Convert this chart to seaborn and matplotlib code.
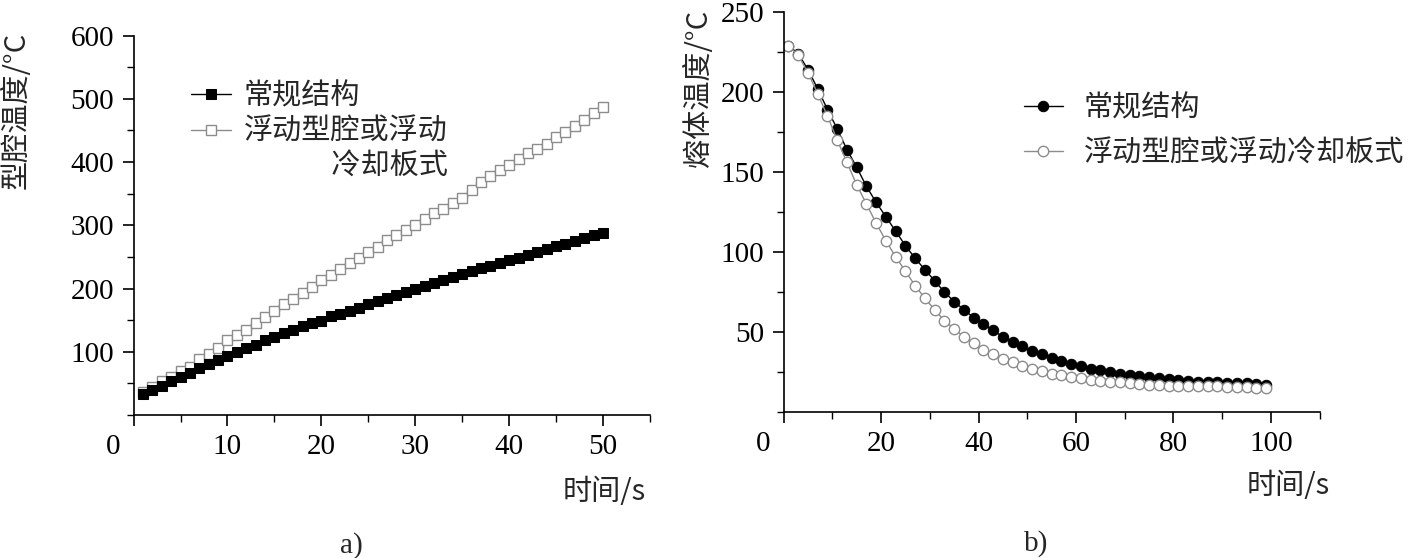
import numpy as np
import pandas as pd
import matplotlib
matplotlib.use("Agg")
import matplotlib.pyplot as plt
import seaborn as sns
from matplotlib.ticker import MultipleLocator
from matplotlib.lines import Line2D

# ---------------- data ----------------
time_a = list(range(1, 51))
conv_a = [33, 40, 46, 53, 60, 67, 74, 80, 87, 94,
          100, 106, 111, 118, 124, 129, 134, 140, 145, 149,
          156, 160, 165, 170, 175, 180, 185, 190, 195, 199,
          204, 208, 213, 218, 223, 227, 232, 236, 241, 245,
          249, 253, 258, 262, 267, 271, 275, 280, 284, 288]
float_a = [37, 45, 53, 60, 70, 76, 88, 97, 106, 118,
           126, 135, 145, 155, 164, 175, 184, 193, 203, 213,
           222, 231, 240, 248, 257, 266, 276, 285, 292, 301,
           310, 319, 326, 335, 343, 356, 368, 378, 388, 396,
           405, 414, 420, 428, 440, 448, 457, 466, 477, 487]

time_b = list(range(1, 100, 2))
conv_b = [229, 224, 214, 202, 189, 177, 164, 153, 141, 131,
          122, 113, 104, 96, 89, 82, 75, 69, 64, 59,
          55, 51, 47, 44, 41, 38, 36, 34, 32, 30,
          29, 27, 26, 25, 24, 23, 22.5, 22, 21, 20.5,
          20, 19.5, 19, 19, 18.5, 18, 18, 18, 17.5, 17]
float_b = [229, 223, 212, 199, 185, 170, 156, 142, 130, 118,
           107, 97, 88, 79, 71, 64, 57, 52, 47, 43,
           39, 36, 33, 31, 29, 27, 25.5, 24, 23, 22,
           21, 20, 19.5, 19, 18.5, 18, 17.5, 17, 17, 16.5,
           16.5, 16, 16, 16, 16, 15.5, 15.5, 15.5, 15, 15]

label_conv = "常规结构"
label_float_a1 = "浮动型腔或浮动"
label_float_a2 = "\u3000\u3000\u3000冷却板式"
label_float_b = "浮动型腔或浮动冷却板式"
ylabel_a = "型腔温度/°C"
ylabel_b = "熔体温度/°C"
xlabel = "时间/s"
xticks_a = [0, 10, 20, 30, 40, 50]
yticks_a = [100, 200, 300, 400, 500, 600]
xticks_b = [0, 20, 40, 60, 80, 100]
yticks_b = [50, 100, 150, 200, 250]

# ---------------- style ----------------
sns.set_theme(style="ticks")
FAM = ["Liberation Serif", "Noto Sans CJK SC", "DejaVu Sans"]
CJK = ["Noto Sans CJK SC", "Liberation Serif", "DejaVu Sans"]
plt.rcParams["font.family"] = FAM
plt.rcParams["axes.unicode_minus"] = False

W, H = 1427, 558
fig = plt.figure(figsize=(W / 100, H / 100), dpi=100)
FS = 21
GRAY = "#8c8c8c"

ax1 = fig.add_axes([133.6 / W, 1 - 415 / H, 516.4 / W, 379.4 / H])
ax2 = fig.add_axes([783.6 / W, 1 - 412 / H, 536 / W, 400 / H])

# ---- panel a ----
sns.lineplot(x=time_a, y=float_a, ax=ax1, color=GRAY, lw=1.0,
             marker="s", markersize=6.5, markerfacecolor="white",
             markeredgecolor=GRAY, markeredgewidth=1.0,
             drawstyle="steps-mid", label=label_float_a1)
sns.lineplot(x=time_a, y=conv_a, ax=ax1, color="black", lw=1.0,
             marker="s", markersize=6.5, markerfacecolor="black",
             markeredgecolor="black", label=label_conv)

# ---- panel b ----
sns.lineplot(x=time_b, y=conv_b, ax=ax2, color="black", lw=1.0,
             marker="o", markersize=7.5, markerfacecolor="black",
             markeredgecolor="black", label=label_conv)
sns.lineplot(x=time_b, y=float_b, ax=ax2, color=GRAY, lw=1.0,
             marker="o", markersize=7.5, markerfacecolor="white",
             markeredgecolor=GRAY, markeredgewidth=1.0,
             label=label_float_b)

ax1.set_xlim(0, 55)
ax1.set_ylim(0, 600)
ax2.set_xlim(0, 110)
ax2.set_ylim(0, 250)

for ax, xt, yt, xm, ym in [(ax1, xticks_a, yticks_a, 5, 50),
                           (ax2, xticks_b, yticks_b, 10, 25)]:
    sns.despine(ax=ax)
    for s in ("left", "bottom"):
        ax.spines[s].set_linewidth(1.2)
        ax.spines[s].set_color("black")
    ax.set_xticks(xt)
    ax.set_xticklabels(["" if v == 0 else str(v) for v in xt])
    ax.set_yticks(yt)
    ax.set_yticklabels([str(v) for v in yt])
    ax.xaxis.set_minor_locator(MultipleLocator(xm))
    ax.yaxis.set_minor_locator(MultipleLocator(ym))
    ax.tick_params(which="major", direction="out", length=8, width=1.2,
                   color="black", labelsize=FS, labelcolor="black", pad=6)
    ax.tick_params(which="minor", direction="out", length=5, width=1.0,
                   color="black")
    ax.set_xlabel("")
    ax.set_ylabel("")
    ax.grid(False)
    # the corner "0" label, shifted left of the axis origin as in the source
    ax.annotate("0", xy=(0, 0), xycoords="data", xytext=(-15, -14),
                textcoords="offset points", ha="center", va="top",
                fontsize=FS, color="black")

# legends
h, l = ax1.get_legend_handles_labels()
blank = Line2D([], [], color="none", marker=None)
leg1 = ax1.legend([h[1], h[0], blank], [l[1], l[0], label_float_a2],
                  loc="upper left", bbox_to_anchor=(0.112, 0.879),
                  frameon=False, prop={"family": CJK, "size": FS},
                  handlelength=1.35, handletextpad=0.45, labelspacing=0.18,
                  borderpad=0, borderaxespad=0)

leg2 = ax2.legend(loc="upper left", bbox_to_anchor=(0.448, 0.797),
                  frameon=False, prop={"family": CJK, "size": FS},
                  handlelength=1.35, handletextpad=0.7, labelspacing=0.52,
                  borderpad=0, borderaxespad=0)

# axis titles
fig.text(17 / W, 1 - 110 / H, ylabel_a, rotation=90, ha="center",
         va="center", fontsize=FS, family=CJK)
fig.text(699 / W, 1 - 88 / H, ylabel_b, rotation=90, ha="center",
         va="center", fontsize=FS, family=CJK)
fig.text(604 / W, 1 - 492 / H, xlabel, ha="center", va="center",
         fontsize=FS, family=CJK)
fig.text(1288 / W, 1 - 486 / H, xlabel, ha="center", va="center",
         fontsize=FS, family=CJK)
fig.text(351 / W, 1 - 546 / H, "a)", ha="center", va="center", fontsize=FS)
fig.text(1036 / W, 1 - 544 / H, "b)", ha="center", va="center", fontsize=FS)

fig.savefig("out.png", dpi=100, facecolor="white")
